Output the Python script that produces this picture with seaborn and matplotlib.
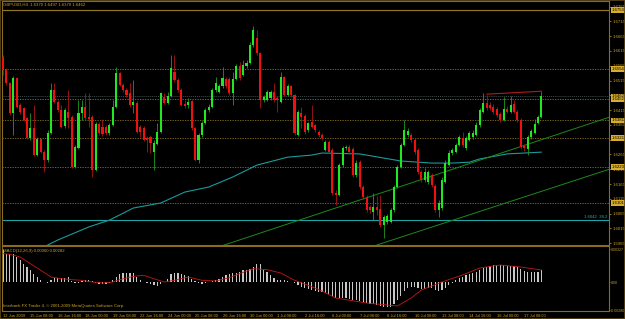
import matplotlib
matplotlib.use('Agg')
import matplotlib.pyplot as plt
import matplotlib.transforms as mtransforms
import numpy as np
import pandas as pd
import seaborn as sns

# ---- values: GBPUSD, H4, 12 Jun - 17 Jul 2009 ----
opens = [
    1.6594, 1.6550, 1.6506, 1.6405, 1.6523, 1.6432, 1.6422, 1.6388, 1.6321, 1.6354,
    1.6263, 1.6317, 1.6273, 1.6246, 1.6337, 1.6483, 1.6442, 1.6415, 1.6361, 1.6408,
    1.6392, 1.6223, 1.6287, 1.6405, 1.6425, 1.6392, 1.6392, 1.6212, 1.6368, 1.6358,
    1.6358, 1.6337, 1.6365, 1.6425, 1.6540, 1.6500, 1.6483, 1.6473, 1.6432, 1.6439,
    1.6358, 1.6354, 1.6321, 1.6324, 1.6273, 1.6300, 1.6341, 1.6459, 1.6439, 1.6463,
    1.6544, 1.6517, 1.6483, 1.6435, 1.6432, 1.6446, 1.6354, 1.6246, 1.6331, 1.6371,
    1.6415, 1.6425, 1.6483, 1.6476, 1.6496, 1.6520, 1.6520, 1.6473, 1.6520, 1.6564,
    1.6534, 1.6564, 1.6574, 1.6635, 1.6659, 1.6608, 1.6449, 1.6449, 1.6456, 1.6476,
    1.6456, 1.6442, 1.6527, 1.6466, 1.6496, 1.6466, 1.6331, 1.6405, 1.6395, 1.6348,
    1.6375, 1.6365, 1.6341, 1.6331, 1.6280, 1.6307, 1.6280, 1.6135, 1.6128, 1.6229,
    1.6287, 1.6290, 1.6283, 1.6196, 1.6239, 1.6155, 1.6121, 1.6087, 1.6070, 1.6087,
    1.6081, 1.6027, 1.6037, 1.6037, 1.6077, 1.6155, 1.6223, 1.6297, 1.6331, 1.6331,
    1.6314, 1.6280, 1.6206, 1.6179, 1.6172, 1.6196, 1.6158, 1.6077, 1.6084, 1.6172,
    1.6229, 1.6270, 1.6273, 1.6297, 1.6321, 1.6287, 1.6314, 1.6324, 1.6331, 1.6365,
    1.6408, 1.6439, 1.6432, 1.6425, 1.6419, 1.6402, 1.6381, 1.6419, 1.6408, 1.6435,
    1.6408, 1.6381, 1.6294, 1.6283, 1.6324, 1.6337, 1.6371, 1.6392,
]
highs = [
    1.6601, 1.6557, 1.6510, 1.6530, 1.6527, 1.6439, 1.6425, 1.6392, 1.6405, 1.6432,
    1.6324, 1.6321, 1.6280, 1.6348, 1.6506, 1.6506, 1.6449, 1.6432, 1.6422, 1.6483,
    1.6398, 1.6297, 1.6449, 1.6449, 1.6473, 1.6473, 1.6398, 1.6375, 1.6375, 1.6385,
    1.6365, 1.6371, 1.6449, 1.6561, 1.6544, 1.6506, 1.6490, 1.6506, 1.6517, 1.6446,
    1.6365, 1.6361, 1.6327, 1.6331, 1.6314, 1.6371, 1.6476, 1.6473, 1.6476, 1.6601,
    1.6601, 1.6523, 1.6490, 1.6449, 1.6456, 1.6449, 1.6358, 1.6337, 1.6378, 1.6422,
    1.6435, 1.6490, 1.6527, 1.6503, 1.6561, 1.6527, 1.6527, 1.6544, 1.6571, 1.6577,
    1.6584, 1.6584, 1.6645, 1.6699, 1.6686, 1.6611, 1.6466, 1.6483, 1.6483, 1.6506,
    1.6463, 1.6544, 1.6530, 1.6503, 1.6500, 1.6469, 1.6415, 1.6425, 1.6402, 1.6375,
    1.6432, 1.6368, 1.6348, 1.6337, 1.6314, 1.6314, 1.6287, 1.6145, 1.6236, 1.6294,
    1.6297, 1.6297, 1.6290, 1.6246, 1.6246, 1.6162, 1.6128, 1.6094, 1.6135, 1.6125,
    1.6128, 1.6060, 1.6064, 1.6084, 1.6162, 1.6229, 1.6304, 1.6381, 1.6354, 1.6337,
    1.6321, 1.6287, 1.6212, 1.6219, 1.6212, 1.6202, 1.6165, 1.6111, 1.6189, 1.6246,
    1.6280, 1.6287, 1.6304, 1.6331, 1.6341, 1.6327, 1.6344, 1.6348, 1.6375, 1.6422,
    1.6473, 1.6466, 1.6442, 1.6435, 1.6425, 1.6408, 1.6459, 1.6429, 1.6463, 1.6449,
    1.6415, 1.6388, 1.6300, 1.6331, 1.6351, 1.6385, 1.6398, 1.6480,
]
lows = [
    1.6534, 1.6500, 1.6398, 1.6331, 1.6422, 1.6402, 1.6378, 1.6317, 1.6314, 1.6260,
    1.6260, 1.6270, 1.6206, 1.6239, 1.6334, 1.6439, 1.6408, 1.6354, 1.6354, 1.6354,
    1.6219, 1.6219, 1.6283, 1.6381, 1.6381, 1.6358, 1.6189, 1.6209, 1.6331, 1.6327,
    1.6331, 1.6331, 1.6361, 1.6422, 1.6496, 1.6476, 1.6459, 1.6425, 1.6405, 1.6337,
    1.6324, 1.6310, 1.6273, 1.6270, 1.6212, 1.6297, 1.6337, 1.6435, 1.6435, 1.6459,
    1.6510, 1.6476, 1.6429, 1.6422, 1.6422, 1.6348, 1.6243, 1.6236, 1.6324, 1.6368,
    1.6408, 1.6422, 1.6476, 1.6473, 1.6490, 1.6490, 1.6466, 1.6432, 1.6517, 1.6517,
    1.6530, 1.6557, 1.6571, 1.6628, 1.6601, 1.6422, 1.6442, 1.6446, 1.6449, 1.6442,
    1.6408, 1.6439, 1.6463, 1.6463, 1.6459, 1.6331, 1.6327, 1.6354, 1.6334, 1.6341,
    1.6354, 1.6341, 1.6324, 1.6314, 1.6277, 1.6270, 1.6128, 1.6094, 1.6125, 1.6223,
    1.6280, 1.6267, 1.6189, 1.6189, 1.6148, 1.6114, 1.6070, 1.6067, 1.6043, 1.6060,
    1.6020, 1.5983, 1.6030, 1.6033, 1.6070, 1.6152, 1.6219, 1.6294, 1.6324, 1.6307,
    1.6267, 1.6199, 1.6172, 1.6172, 1.6165, 1.6155, 1.6070, 1.6054, 1.6077, 1.6168,
    1.6226, 1.6263, 1.6270, 1.6294, 1.6290, 1.6280, 1.6310, 1.6317, 1.6327, 1.6358,
    1.6405, 1.6415, 1.6415, 1.6402, 1.6392, 1.6375, 1.6378, 1.6405, 1.6405, 1.6405,
    1.6375, 1.6283, 1.6277, 1.6263, 1.6317, 1.6334, 1.6368, 1.6388,
]
closes = [
    1.6550, 1.6506, 1.6405, 1.6523, 1.6425, 1.6408, 1.6381, 1.6321, 1.6354, 1.6263,
    1.6317, 1.6273, 1.6246, 1.6337, 1.6483, 1.6442, 1.6415, 1.6358, 1.6415, 1.6388,
    1.6223, 1.6290, 1.6405, 1.6425, 1.6388, 1.6385, 1.6212, 1.6368, 1.6337, 1.6334,
    1.6337, 1.6365, 1.6425, 1.6540, 1.6500, 1.6483, 1.6466, 1.6432, 1.6442, 1.6341,
    1.6341, 1.6314, 1.6314, 1.6304, 1.6304, 1.6341, 1.6473, 1.6439, 1.6463, 1.6557,
    1.6517, 1.6483, 1.6432, 1.6429, 1.6442, 1.6354, 1.6246, 1.6331, 1.6371, 1.6415,
    1.6425, 1.6483, 1.6506, 1.6496, 1.6523, 1.6496, 1.6473, 1.6520, 1.6564, 1.6523,
    1.6567, 1.6574, 1.6635, 1.6686, 1.6608, 1.6449, 1.6459, 1.6476, 1.6476, 1.6449,
    1.6449, 1.6527, 1.6466, 1.6496, 1.6466, 1.6337, 1.6408, 1.6392, 1.6341, 1.6371,
    1.6358, 1.6348, 1.6331, 1.6321, 1.6307, 1.6273, 1.6135, 1.6128, 1.6229, 1.6287,
    1.6290, 1.6273, 1.6196, 1.6236, 1.6155, 1.6121, 1.6077, 1.6077, 1.6087, 1.6077,
    1.6027, 1.6054, 1.6057, 1.6077, 1.6155, 1.6223, 1.6297, 1.6348, 1.6344, 1.6314,
    1.6273, 1.6206, 1.6179, 1.6206, 1.6206, 1.6162, 1.6077, 1.6101, 1.6179, 1.6236,
    1.6270, 1.6280, 1.6297, 1.6324, 1.6297, 1.6321, 1.6337, 1.6337, 1.6365, 1.6415,
    1.6439, 1.6422, 1.6422, 1.6408, 1.6398, 1.6381, 1.6419, 1.6408, 1.6432, 1.6408,
    1.6381, 1.6290, 1.6287, 1.6324, 1.6344, 1.6368, 1.6392, 1.6462,
]

# MACD(12,26,9) main line (histogram) per bar
macd_main = [
    0.00317, 0.00283, 0.00277, 0.00277, 0.00250, 0.00217, 0.00183, 0.00150, 0.00117, 0.00077,
    0.00050, 0.00023, 0.00000, -0.00010, 0.00017, 0.00043, 0.00043, 0.00037, 0.00043, 0.00050,
    0.00010, -0.00010, -0.00010, 0.00007, 0.00017, 0.00017, 0.00010, -0.00010, -0.00017, -0.00017,
    -0.00017, -0.00007, 0.00017, 0.00050, 0.00077, 0.00090, 0.00093, 0.00093, 0.00090, 0.00050,
    0.00017, 0.00000, -0.00010, -0.00023, -0.00033, -0.00043, -0.00023, 0.00000, 0.00033, 0.00077,
    0.00090, 0.00090, 0.00083, 0.00073, 0.00057, 0.00033, 0.00010, -0.00010, -0.00017, -0.00010,
    0.00000, 0.00010, 0.00017, 0.00033, 0.00050, 0.00067, 0.00083, 0.00090, 0.00093, 0.00100,
    0.00117, 0.00123, 0.00133, 0.00150, 0.00183, 0.00183, 0.00123, 0.00100, 0.00067, 0.00043,
    0.00023, 0.00023, 0.00017, 0.00010, 0.00000, -0.00010, -0.00033, -0.00050, -0.00057, -0.00067,
    -0.00083, -0.00090, -0.00100, -0.0010, -0.0011, -0.0012, -0.0014, -0.0016, -0.0016, -0.0016,
    -0.0016, -0.0017, -0.0018, -0.0018, -0.0019, -0.0020, -0.0021, -0.0022, -0.0022, -0.0023,
    -0.0024, -0.0025, -0.0025, -0.0025, -0.0022, -0.0018, -0.0014, -0.0009, -0.0006, -0.0005,
    -0.0005, -0.0006, -0.0007, -0.0007, -0.0006, -0.0006, -0.0008, -0.0009, -0.0008, -0.0006,
    -0.0003, -0.0001, 0.0002, 0.0004, 0.0005, 0.0007, 0.0008, 0.0009, 0.0010, 0.0012,
    0.0014, 0.0015, 0.0016, 0.0017, 0.0017, 0.0017, 0.0017, 0.0016, 0.0016, 0.0016,
    0.0015, 0.0013, 0.0011, 0.0010, 0.0010, 0.0010, 0.0010, 0.0012,
]
# MACD signal line (red), read at a few bars
sig_bar = [0, 2, 5, 8, 11, 14, 17, 20, 23, 26, 29, 32, 34, 38, 41, 44, 47, 50, 54, 58,
           62, 66, 69, 73, 77, 81, 85, 89, 93, 97, 106, 115, 119, 122, 128, 134, 139, 145, 151, 157]
sig_val = [0.00283, 0.00277, 0.00250, 0.00183, 0.00117, 0.00050, 0.00033, 0.00023, 0.00017, 0.0,
           -0.00010, 0.0, 0.00023, 0.00057, 0.00067, 0.00033, 0.0, 0.00017, 0.00050, 0.00017,
           0.00010, 0.00043, 0.00083, 0.00133, 0.00123, 0.00090, 0.00017, -0.00033, -0.00090, -0.00160,
           -0.00210, -0.00240, -0.00160, -0.00080, 0.0, 0.00070, 0.00140, 0.00170, 0.00150, 0.00120]

# moving average (teal)
ma_bar = [13, 16, 25, 31, 38, 46, 53, 60, 67, 74, 83, 90, 93, 104, 116, 125, 131, 136, 139, 147, 157]
ma_val = [1.5959, 1.5976, 1.6020, 1.6043, 1.6084, 1.6101, 1.6138, 1.6155, 1.6189, 1.6229, 1.6256,
          1.6263, 1.6270, 1.6267, 1.6243, 1.6236, 1.6236, 1.6239, 1.6250, 1.6267, 1.6273]

# trend lines
chan_up_bar, chan_up_val = [64, 177], [1.5957, 1.6392]
chan_lo_bar, chan_lo_val = [109, 177], [1.5959, 1.6216]
top_bar, top_val = [141, 157], [1.6469, 1.6479]

# horizontal levels
dotted_levels = [1.6554, 1.6452, 1.6381, 1.6321, 1.6223, 1.6101]
solid_level = 1.6753
bid_level = 1.6462
fibo_level = 1.6043
marked_levels = [1.6753, 1.6554, 1.6462, 1.6452, 1.6381, 1.6321, 1.6223, 1.6101]

price_ticks = [1.5965, 1.6015, 1.6065, 1.6115, 1.6165, 1.6215, 1.6265, 1.6315, 1.6365,
               1.6415, 1.6465, 1.6515, 1.6565, 1.6615, 1.6665, 1.6715, 1.6765]
macd_ticks = [0.00327, 0.0, -0.0028]
macd_tick_labels = ['0.00327', '0.00', '-0.00280']

time_bars = [0, 8, 16, 24, 32, 40, 48, 56, 64, 72, 80, 88, 96, 104, 112, 120, 128, 136, 144, 152]
time_labels = ['12 Jun 2009', '15 Jun 08:00', '16 Jun 16:00', '18 Jun 00:00', '19 Jun 08:00',
               '22 Jun 16:00', '24 Jun 00:00', '25 Jun 08:00', '26 Jun 16:00', '30 Jun 00:00',
               '1 Jul 08:00', '2 Jul 16:00', '6 Jul 00:00', '7 Jul 08:00', '8 Jul 16:00',
               '10 Jul 00:00', '13 Jul 08:00', '14 Jul 16:00', '16 Jul 00:00', '17 Jul 08:00']

# ---- style ----
sns.set_style('dark')
plt.rcParams['font.family'] = ['Liberation Sans', 'DejaVu Sans']
gold = '#c9a227'
gold_dim = '#8f7420'
frame = '#8a6c1e'
fs = 3.1

W, H = 625, 319
fig = plt.figure(figsize=(W / 100, H / 100), dpi=100, facecolor='black')
ax = fig.add_axes([2 / W, (H - 245) / H, 607 / W, 244 / H])
axm = fig.add_axes([2 / W, (H - 311) / H, 607 / W, 65 / H])

for a in (ax, axm):
    a.set_facecolor('black')
    a.grid(False)
    for s in a.spines.values():
        s.set_color(frame)
        s.set_linewidth(0.8)
    a.set_xlim(-0.3, 176.7)

df = pd.DataFrame({'open': opens, 'high': highs, 'low': lows, 'close': closes})
df['bar'] = np.arange(len(df))
up = df['close'] >= df['open']
dn = ~up

# horizontal lines
for lv in dotted_levels:
    ax.axhline(lv, color=gold_dim, lw=0.6, ls=(0, (1.5, 1.5)), zorder=1)
ax.axhline(solid_level, color=gold_dim, lw=0.9, zorder=1)
ax.axhline(bid_level, color='#3c4a4a', lw=0.7, ls=(0, (1, 1)), zorder=1)
ax.axhline(fibo_level, color='#1fa3a3', lw=0.8, zorder=1)

# candles
ax.vlines(df['bar'][up], df['low'][up], df['high'][up], color='#239a23', lw=0.6, zorder=3)
ax.vlines(df['bar'][dn], df['low'][dn], df['high'][dn], color='#a81515', lw=0.6, zorder=3)
body = df['close'] - df['open']
body = body.where(body.abs() > 0.00015, np.sign(body + 1e-9) * 0.00015)
ax.bar(df['bar'][up], body[up], bottom=df['open'][up], width=0.6, color='#1ee81e', lw=0, zorder=4)
ax.bar(df['bar'][dn], body[dn], bottom=df['open'][dn], width=0.6, color='#f01010', lw=0, zorder=4)

# indicator / trend lines
sns.lineplot(x=ma_bar, y=ma_val, ax=ax, color='#1b9a9a', lw=0.8, zorder=2)
sns.lineplot(x=chan_up_bar, y=chan_up_val, ax=ax, color='#1c8a1c', lw=0.7, zorder=2)
sns.lineplot(x=chan_lo_bar, y=chan_lo_val, ax=ax, color='#1c8a1c', lw=0.7, zorder=2)
sns.lineplot(x=top_bar, y=top_val, ax=ax, color='#b01c1c', lw=0.8, zorder=5)

ax.set_ylim(1.5959, 1.6784)
ax.yaxis.tick_right()
ax.set_yticks(price_ticks)
ax.set_yticklabels(['%.4f' % p for p in price_ticks])
ax.tick_params(axis='y', colors=gold, labelsize=fs, length=1.5, width=0.5, pad=1)
ax.tick_params(axis='x', bottom=False, labelbottom=False)
ax.set_xlabel('')
ax.set_ylabel('')

trans = mtransforms.blended_transform_factory(ax.transAxes, ax.transData)
for lv in marked_levels:
    ax.text(1.004, lv, '%.4f' % lv, transform=trans, fontsize=fs, color='black',
            va='center', ha='left', clip_on=False, zorder=6,
            bbox=dict(facecolor='#d8ad2c', edgecolor='none', pad=0.5))
ax.text(0.998, fibo_level + 0.0003, '1.6042  38.2', transform=trans, fontsize=fs,
        color='#1fb0b0', ha='right', va='bottom')
fig.text(3 / W, 1 - 4.5 / H, 'GBPUSD,H4  1.6370 1.6497 1.6370 1.6462', color=gold,
         fontsize=fs, va='center', ha='left')

# MACD window
axm.bar(np.arange(len(macd_main)), macd_main, width=0.35, color='#c8c8c8', lw=0, zorder=2)
sns.lineplot(x=sig_bar, y=sig_val, ax=axm, color='#c41818', lw=0.6, zorder=3)
axm.set_ylim(-0.0029, 0.0036)
axm.yaxis.tick_right()
axm.set_yticks(macd_ticks)
axm.set_yticklabels(macd_tick_labels)
axm.tick_params(axis='y', colors=gold, labelsize=2.6, length=1.0, width=0.5, pad=0.6)
axm.set_xticks(time_bars)
axm.set_xticklabels(time_labels, ha='left')
axm.tick_params(axis='x', colors=gold, labelsize=2.9, length=1.5, width=0.5, pad=0.8)
axm.set_xlabel('')
axm.set_ylabel('')
axm.text(0.002, 0.93, 'MACD(12,26,9) 0.00060 0.00282', transform=axm.transAxes,
         fontsize=fs, color=gold, ha='left', va='center')
axm.text(0.002, 0.07, 'Interbank FX Trader 4, \u00a9 2001-2009 MetaQuotes Software Corp.',
         transform=axm.transAxes, fontsize=fs, color=gold, ha='left', va='center')

fig.patches.append(plt.Rectangle((0, 0), 1, 1, transform=fig.transFigure, fill=False,
                                 ec='#5e4a18', lw=1.2))

fig.savefig('out.png', dpi=100, facecolor='black')
